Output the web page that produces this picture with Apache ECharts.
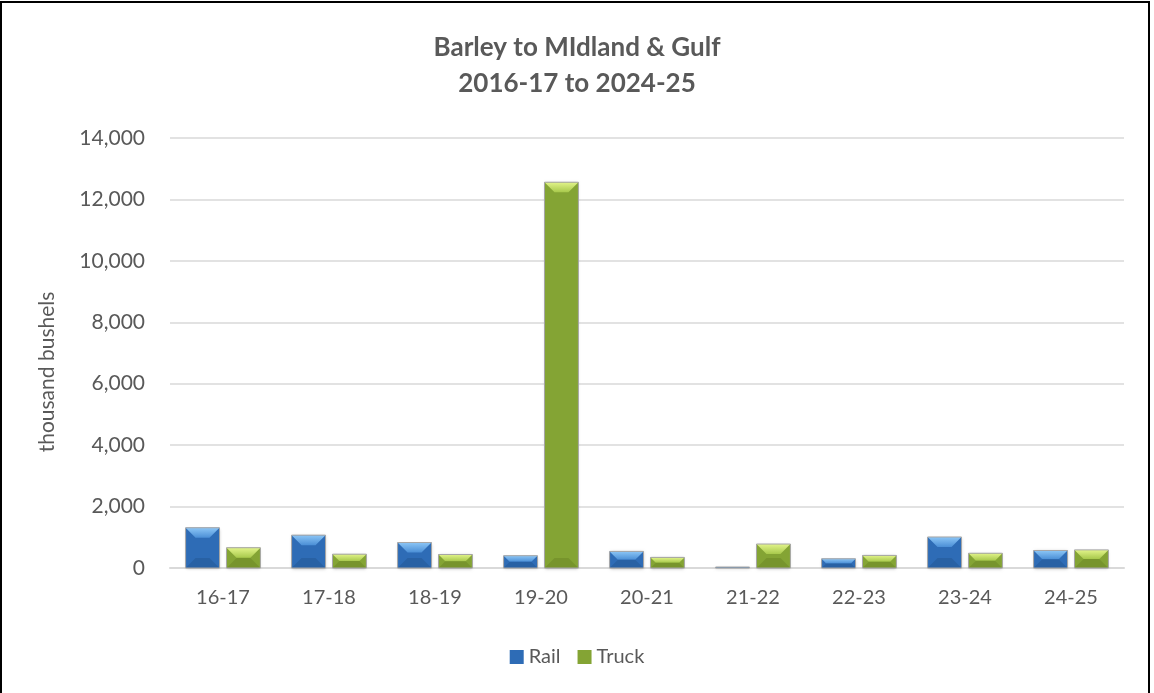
<!DOCTYPE html>
<html>
<head>
<meta charset="utf-8">
<script src="https://cdn.jsdelivr.net/npm/echarts@6/dist/echarts.min.js"></script>
<style>
  html, body { margin: 0; padding: 0; background: #fff; overflow: hidden; }
  #chart { width: 1154px; height: 693px; }
  #frame { position: absolute; left: 0; top: 1px; width: 1146px; height: 800px; border: 2px solid #000; pointer-events: none; }
</style>
</head>
<body>
<div id="chart"></div>
<div id="frame"></div>
<script>
// 数据
var seasons = ['16-17', '17-18', '18-19', '19-20', '20-21', '21-22', '22-23', '23-24', '24-25'];
var railData = [1310, 1070, 830, 400, 540, 30, 300, 1010, 570];
var truckData = [660, 450, 440, 12560, 345, 780, 410, 480, 590];

var myChart = echarts.init(document.getElementById('chart'));

var railCol = { body: '#2e6cb6', top: '#8cc6f6', side: '#4b8fd6', bottom: '#245a98' };
var truckCol = { body: '#84a434', top: '#e2f48a', side: '#a8c94c', bottom: '#6e8a28' };

// 斜面柱子
function bevelBar(col, dir) {
    return function (params, api) {
        var idx = api.value(0);
        var top = api.coord([idx, api.value(1)]);
        var base = api.coord([idx, 0]);
        var band = api.size([1, 0])[0];
        var w = band * 0.32;
        var gap = 7;
        var cx = top[0] + dir * (w / 2 + gap / 2);
        var x0 = cx - w / 2, x1 = cx + w / 2;
        var y0 = top[1], y1 = base[1];
        var h = Math.max(y1 - y0, 1);
        y0 = y1 - h;
        var b = Math.min(10, h / 2, w / 2);
        return {
            type: 'group',
            children: [
                { type: 'rect', shape: { x: x0, y: y0, width: w, height: h },
                  style: { fill: col.body, shadowBlur: 3, shadowColor: 'rgba(0,0,0,0.25)', shadowOffsetY: 1 } },
                { type: 'polygon', shape: { points: [[x0, y0], [x1, y0], [x1 - b, y0 + b], [x0 + b, y0 + b]] },
                  style: { fill: new echarts.graphic.LinearGradient(0, 0, 0, 1, [{ offset: 0, color: col.top }, { offset: 1, color: col.side }]) } },
                { type: 'polygon', shape: { points: [[x0, y1], [x1, y1], [x1 - b, y1 - b], [x0 + b, y1 - b]] },
                  style: { fill: col.bottom, opacity: 0.6 } },
                { type: 'rect', shape: { x: x0, y: y0, width: w, height: h },
                  style: { fill: 'none', stroke: '#a6a6a6', lineWidth: 1 } }
            ]
        };
    };
}

function pairs(arr) {
    return arr.map(function (v, i) { return [i, v]; });
}

var option = {
    animation: false,
    textStyle: { fontFamily: 'Lato, "Open Sans", sans-serif', color: '#595959' },
    title: {
        text: 'Barley to MIdland & Gulf\n2016-17 to 2024-25',
        left: 'center',
        top: 25,
        textStyle: { fontSize: 26, fontWeight: 'bold', color: '#595959', lineHeight: 36 }
    },
    legend: {
        top: 642,
        left: 'center',
        icon: 'rect',
        itemWidth: 14,
        itemHeight: 14,
        itemGap: 17,
        textStyle: { fontSize: 20, color: '#595959' },
        data: ['Rail', 'Truck']
    },
    grid: { left: 170, right: 30, top: 138, bottom: 125 },
    xAxis: {
        type: 'category',
        data: seasons,
        axisLine: { lineStyle: { color: '#d9d9d9', width: 2 } },
        axisTick: { show: false },
        axisLabel: { fontSize: 20, color: '#595959', margin: 20 }
    },
    yAxis: {
        type: 'value',
        min: 0,
        max: 14000,
        interval: 2000,
        name: 'thousand bushels',
        nameLocation: 'middle',
        nameGap: 112,
        nameTextStyle: { fontSize: 21, color: '#595959', padding: [0, 38, 0, 0] },
        axisLine: { show: false },
        axisTick: { show: false },
        splitLine: { lineStyle: { color: '#d9d9d9', width: 1.5 } },
        axisLabel: {
            fontSize: 21,
            color: '#595959',
            margin: 25,
            formatter: function (v) { return v.toLocaleString('en-US'); }
        }
    },
    series: [
        {
            name: 'Rail',
            type: 'custom',
            renderItem: bevelBar(railCol, -1),
            encode: { x: 0, y: 1 },
            itemStyle: { color: railCol.body },
            data: pairs(railData),
            z: 3
        },
        {
            name: 'Truck',
            type: 'custom',
            renderItem: bevelBar(truckCol, 1),
            encode: { x: 0, y: 1 },
            itemStyle: { color: truckCol.body },
            data: pairs(truckData),
            z: 3
        }
    ]
};
myChart.setOption(option);
</script>
</body>
</html>
